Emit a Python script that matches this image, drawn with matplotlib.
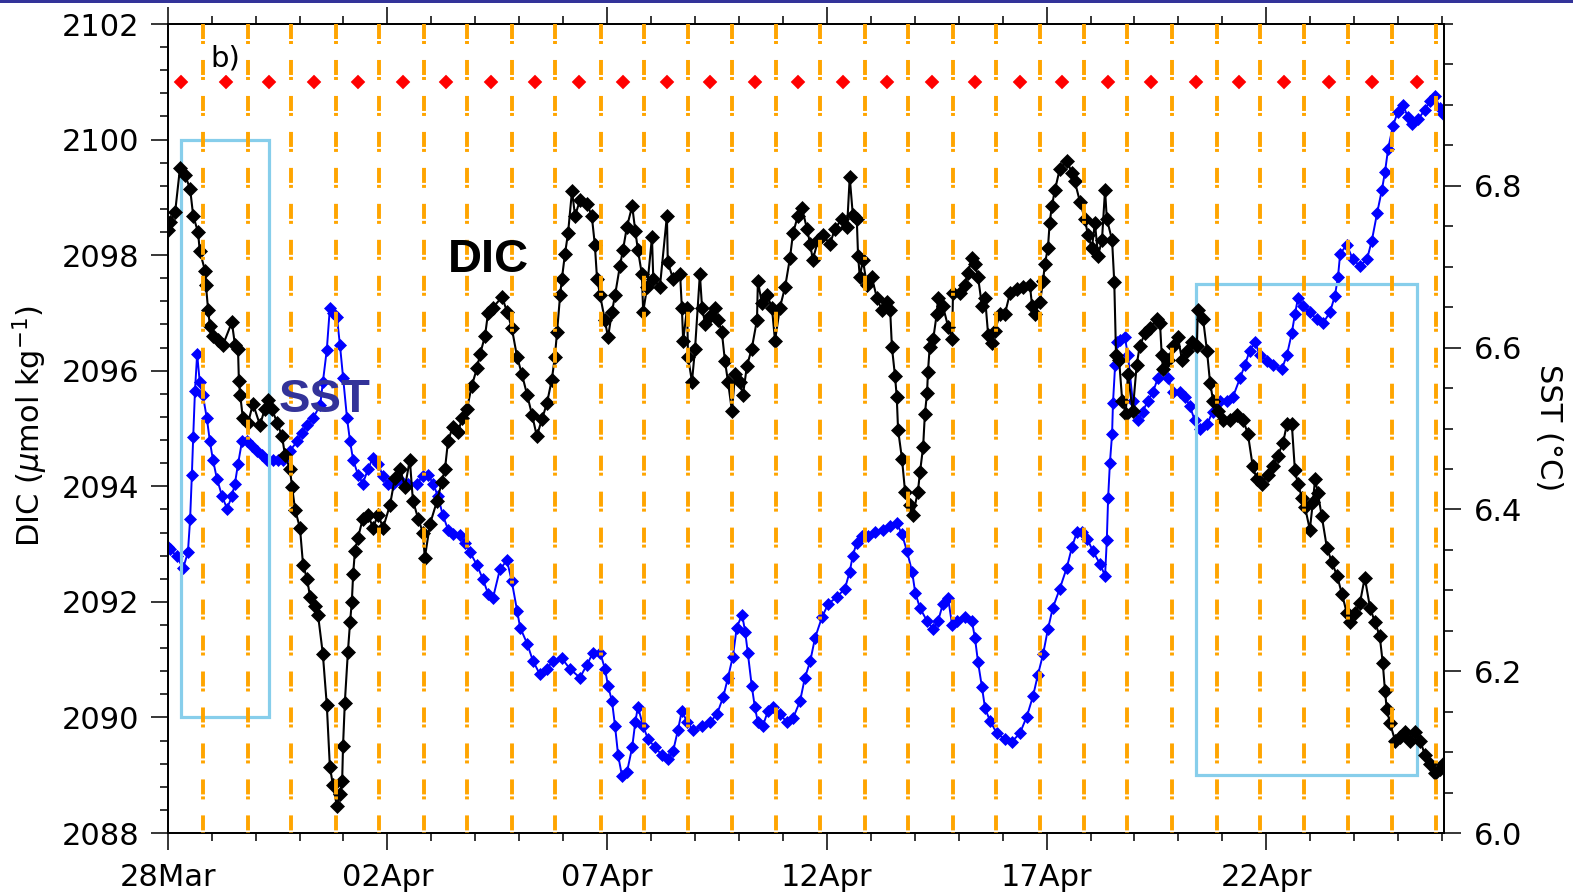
import matplotlib
matplotlib.use("Agg")
import matplotlib.pyplot as plt
from matplotlib.ticker import MultipleLocator, FixedLocator
from matplotlib.patches import Rectangle

plt.rcParams['font.family'] = ['DejaVu Sans']
plt.rcParams['lines.scale_dashes'] = False

# ---- axis labels / ticks -------------------------------------------------
tick_days = [0, 5, 10, 15, 20, 25]
tick_labels = ["28Mar", "02Apr", "07Apr", "12Apr", "17Apr", "22Apr"]
sst_ticks = [6.0, 6.2, 6.4, 6.6, 6.8]

# ---- DIC time series (days since 28 Mar, umol/kg) ------------------------
dic_day = [
    0.00, 0.05, 0.17, 0.28, 0.39, 0.51, 0.58, 0.69, 0.73, 0.85, 0.87, 0.92, 0.96,
    1.03, 1.14, 1.26, 1.46, 1.53, 1.60, 1.62, 1.65, 1.71, 1.83, 1.94, 2.10, 2.21,
    2.28, 2.37, 2.49, 2.60, 2.67, 2.78, 2.83, 2.90, 3.01, 3.08, 3.17, 3.24, 3.35,
    3.42, 3.53, 3.62, 3.69, 3.76, 3.85, 3.92, 3.97, 3.99, 4.03, 4.10, 4.15, 4.19,
    4.22, 4.26, 4.33, 4.44, 4.56, 4.67, 4.79, 4.90, 5.06, 5.17, 5.29, 5.40, 5.51,
    5.58, 5.70, 5.81, 5.85, 5.97, 6.13, 6.24, 6.31, 6.38, 6.49, 6.61, 6.70, 6.81,
    6.92, 7.04, 7.11, 7.22, 7.29, 7.40, 7.61, 7.72, 7.83, 7.95, 8.06, 8.18, 8.29,
    8.40, 8.52, 8.63, 8.74, 8.81, 8.86, 8.93, 8.97, 9.04, 9.11, 9.20, 9.27, 9.38,
    9.54, 9.65, 9.72, 9.77, 9.84, 9.95, 10.02, 10.11, 10.18, 10.29, 10.36, 10.45,
    10.57, 10.64, 10.70, 10.79, 10.82, 10.91, 11.02, 11.05, 11.20, 11.36, 11.38,
    11.50, 11.66, 11.70, 11.73, 11.82, 11.84, 11.93, 12.00, 12.11, 12.16, 12.23,
    12.34, 12.45, 12.52, 12.61, 12.68, 12.75, 12.84, 12.91, 13.02, 13.09, 13.18,
    13.29, 13.41, 13.43, 13.52, 13.64, 13.75, 13.82, 13.93, 14.05, 14.16, 14.23,
    14.34, 14.43, 14.55, 14.62, 14.68, 14.80, 14.91, 15.07, 15.18, 15.34, 15.46,
    15.52, 15.59, 15.68, 15.71, 15.75, 15.82, 15.91, 16.02, 16.14, 16.25, 16.37,
    16.44, 16.48, 16.55, 16.59, 16.62, 16.71, 16.78, 16.89, 16.96, 17.07, 17.12,
    17.19, 17.23, 17.28, 17.30, 17.34, 17.42, 17.50, 17.53, 17.64, 17.76, 17.85,
    17.87, 18.03, 18.14, 18.21, 18.30, 18.37, 18.44, 18.53, 18.60, 18.67, 18.76,
    18.82, 18.94, 19.05, 19.17, 19.33, 19.46, 19.62, 19.67, 19.73, 19.85, 19.92,
    19.96, 20.03, 20.07, 20.12, 20.19, 20.30, 20.46, 20.58, 20.64, 20.76, 20.87,
    20.94, 21.03, 21.10, 21.17, 21.26, 21.33, 21.37, 21.49, 21.54, 21.58, 21.65,
    21.72, 21.80, 21.85, 21.96, 22.05, 22.12, 22.24, 22.35, 22.51, 22.58, 22.62,
    22.65, 22.76, 22.88, 22.99, 23.08, 23.19, 23.31, 23.42, 23.44, 23.56, 23.65,
    23.72, 23.79, 23.90, 24.01, 24.17, 24.33, 24.47, 24.58, 24.69, 24.78, 24.90,
    25.03, 25.15, 25.26, 25.38, 25.47, 25.58, 25.65, 25.72, 25.81, 25.88, 25.99,
    26.06, 26.11, 26.17, 26.26, 26.38, 26.49, 26.61, 26.72, 26.83, 26.90, 27.02,
    27.13, 27.24, 27.36, 27.47, 27.58, 27.65, 27.70, 27.74, 27.81, 27.93, 28.04,
    28.15, 28.27, 28.38, 28.50, 28.61, 28.72, 28.84, 28.95, 29.03,
]
dic_val = [
    2098.44, 2098.57, 2098.75, 2099.51, 2099.39, 2099.15, 2098.68, 2098.40, 2098.07,
    2097.73, 2097.48, 2097.05, 2096.78, 2096.60, 2096.53, 2096.45, 2096.84, 2096.45,
    2096.38, 2095.82, 2095.58, 2095.18, 2095.10, 2095.43, 2095.06, 2095.34, 2095.49,
    2095.34, 2095.10, 2094.87, 2094.54, 2094.30, 2093.99, 2093.59, 2093.28, 2092.64,
    2092.40, 2092.09, 2091.93, 2091.78, 2091.10, 2090.22, 2089.15, 2088.83, 2088.47,
    2088.68, 2088.90, 2089.51, 2090.25, 2091.13, 2091.65, 2092.00, 2092.48, 2092.88,
    2093.11, 2093.44, 2093.51, 2093.28, 2093.51, 2093.28, 2093.68, 2094.15, 2094.30,
    2093.99, 2094.46, 2093.75, 2093.44, 2093.19, 2092.76, 2093.35, 2093.75, 2094.08,
    2094.30, 2094.79, 2095.03, 2094.94, 2095.18, 2095.34, 2095.74, 2096.05, 2096.29,
    2096.60, 2097.00, 2097.09, 2097.28, 2097.02, 2096.74, 2096.24, 2095.94, 2095.58,
    2095.24, 2094.87, 2095.17, 2095.44, 2095.84, 2096.24, 2096.67, 2097.31, 2097.59,
    2098.02, 2098.38, 2099.11, 2098.68, 2098.95, 2098.89, 2098.68, 2098.18, 2097.59,
    2097.31, 2096.88, 2096.58, 2097.02, 2097.31, 2097.81, 2098.09, 2098.49, 2098.85,
    2098.42, 2098.09, 2097.67, 2097.02, 2097.45, 2098.31, 2097.59, 2097.45, 2098.68,
    2097.88, 2097.59, 2097.67, 2097.09, 2096.52, 2097.09, 2096.24, 2095.81, 2096.38,
    2097.67, 2097.09, 2096.81, 2096.95, 2097.09, 2096.88, 2096.67, 2096.17, 2095.81,
    2095.30, 2095.94, 2095.81, 2095.58, 2096.08, 2096.38, 2096.88, 2097.55, 2097.17,
    2097.31, 2097.09, 2096.52, 2097.09, 2097.45, 2097.95, 2098.38, 2098.68, 2098.82,
    2098.45, 2098.19, 2097.92, 2098.26, 2098.35, 2098.19, 2098.45, 2098.63, 2098.49,
    2099.35, 2098.70, 2098.63, 2097.99, 2097.62, 2097.92, 2097.48, 2097.62, 2097.26,
    2097.05, 2097.19, 2097.05, 2096.41, 2095.91, 2095.55, 2094.98, 2094.47, 2093.90,
    2093.68, 2093.51, 2093.90, 2094.25, 2094.68, 2095.25, 2095.62, 2095.98, 2096.41,
    2096.55, 2096.98, 2097.26, 2097.12, 2096.76, 2096.55, 2097.35, 2097.35, 2097.48,
    2097.69, 2097.95, 2097.85, 2097.62, 2097.12, 2097.26, 2096.62, 2096.48, 2096.69,
    2096.98, 2096.98, 2097.35, 2097.42, 2097.45, 2097.48, 2097.12, 2096.98, 2097.19,
    2097.55, 2097.85, 2098.12, 2098.56, 2098.85, 2099.13, 2099.49, 2099.63, 2099.42,
    2099.28, 2098.92, 2098.63, 2098.35, 2098.12, 2098.56, 2097.99, 2098.26, 2099.13,
    2098.63, 2098.26, 2097.53, 2096.27, 2096.19, 2095.48, 2095.25, 2095.94, 2095.30,
    2096.10, 2096.43, 2096.65, 2096.74, 2096.90, 2096.83, 2096.27, 2096.03, 2096.19,
    2096.43, 2096.58, 2096.19, 2096.34, 2096.50, 2096.43, 2097.05, 2096.90, 2096.34,
    2095.79, 2095.48, 2095.30, 2095.15, 2095.15, 2095.24, 2095.15, 2094.91, 2094.35,
    2094.13, 2094.04, 2094.20, 2094.35, 2094.53, 2094.75, 2095.08, 2095.08, 2094.28,
    2094.04, 2093.80, 2093.64, 2093.25, 2093.73, 2094.13, 2093.89, 2093.49, 2092.93,
    2092.69, 2092.45, 2092.14, 2091.81, 2091.65, 2091.81, 2091.98, 2092.42, 2091.90,
    2091.65, 2091.41, 2090.94, 2090.46, 2090.15, 2089.91, 2089.60, 2089.66, 2089.75,
    2089.60, 2089.75, 2089.60, 2089.35, 2089.20, 2089.04, 2089.11, 2089.20,
]

# ---- SST time series (days since 28 Mar, deg C) --------------------------
sst_day = [
    0.00, 0.05, 0.21, 0.35, 0.46, 0.51, 0.55, 0.58, 0.62, 0.67, 0.73, 0.80, 0.89,
    0.96, 1.03, 1.12, 1.24, 1.35, 1.46, 1.53, 1.60, 1.69, 1.80, 1.92, 2.03, 2.15,
    2.26, 2.40, 2.51, 2.62, 2.78, 2.94, 3.06, 3.17, 3.31, 3.47, 3.53, 3.62, 3.69,
    3.76, 3.85, 3.92, 3.99, 4.08, 4.15, 4.22, 4.33, 4.44, 4.56, 4.67, 4.79, 4.90,
    5.01, 5.13, 5.29, 5.47, 5.67, 5.81, 5.92, 6.04, 6.15, 6.26, 6.38, 6.49, 6.65,
    6.77, 6.88, 7.04, 7.17, 7.29, 7.40, 7.56, 7.72, 7.83, 7.95, 8.02, 8.18, 8.31,
    8.47, 8.63, 8.77, 8.97, 9.15, 9.38, 9.54, 9.68, 9.84, 9.95, 10.02, 10.11,
    10.18, 10.25, 10.34, 10.45, 10.57, 10.64, 10.70, 10.82, 10.93, 11.09, 11.25,
    11.38, 11.50, 11.61, 11.70, 11.82, 11.95, 12.16, 12.34, 12.50, 12.64, 12.75,
    12.86, 12.95, 13.07, 13.14, 13.20, 13.29, 13.36, 13.43, 13.54, 13.66, 13.77,
    13.93, 14.09, 14.23, 14.39, 14.50, 14.62, 14.73, 14.89, 15.03, 15.23, 15.41,
    15.52, 15.59, 15.68, 15.80, 15.93, 16.09, 16.28, 16.44, 16.59, 16.71, 16.82,
    16.94, 17.01, 17.12, 17.28, 17.42, 17.53, 17.64, 17.76, 17.85, 17.96, 18.14,
    18.30, 18.37, 18.44, 18.53, 18.60, 18.71, 18.87, 19.05, 19.21, 19.39, 19.55,
    19.69, 19.80, 19.92, 20.03, 20.14, 20.30, 20.46, 20.58, 20.69, 20.80, 20.92,
    21.05, 21.21, 21.33, 21.37, 21.40, 21.44, 21.49, 21.51, 21.56, 21.60, 21.67,
    21.78, 21.85, 21.96, 22.08, 22.19, 22.30, 22.42, 22.53, 22.65, 22.76, 22.88,
    23.03, 23.15, 23.26, 23.37, 23.49, 23.65, 23.78, 23.94, 24.10, 24.24, 24.40,
    24.51, 24.62, 24.74, 24.85, 25.01, 25.15, 25.35, 25.47, 25.58, 25.65, 25.72,
    25.83, 25.99, 26.15, 26.29, 26.45, 26.56, 26.63, 26.68, 26.83, 26.97, 27.13,
    27.29, 27.40, 27.52, 27.63, 27.70, 27.77, 27.88, 27.99, 28.11, 28.22, 28.31,
    28.45, 28.61, 28.72, 28.84, 28.95, 29.03,
]
sst_val = [
    6.353, 6.351, 6.342, 6.327, 6.347, 6.388, 6.443, 6.489, 6.546, 6.592, 6.557,
    6.541, 6.513, 6.484, 6.461, 6.438, 6.416, 6.401, 6.416, 6.432, 6.456, 6.484,
    6.484, 6.478, 6.472, 6.467, 6.461, 6.461, 6.461, 6.461, 6.472, 6.484, 6.495,
    6.504, 6.513, 6.529, 6.557, 6.597, 6.649, 6.643, 6.638, 6.603, 6.563, 6.513,
    6.484, 6.461, 6.443, 6.432, 6.450, 6.464, 6.456, 6.441, 6.432, 6.432, 6.436,
    6.432, 6.432, 6.441, 6.443, 6.432, 6.416, 6.393, 6.375, 6.370, 6.368, 6.359,
    6.347, 6.331, 6.314, 6.296, 6.290, 6.326, 6.337, 6.311, 6.275, 6.254, 6.234,
    6.213, 6.196, 6.203, 6.213, 6.216, 6.203, 6.192, 6.208, 6.223, 6.223, 6.203,
    6.182, 6.163, 6.132, 6.096, 6.070, 6.075, 6.106, 6.137, 6.156, 6.132, 6.116,
    6.106, 6.096, 6.091, 6.101, 6.127, 6.151, 6.137, 6.127, 6.132, 6.137, 6.147,
    6.168, 6.192, 6.218, 6.254, 6.270, 6.249, 6.223, 6.182, 6.156, 6.137, 6.132,
    6.151, 6.156, 6.147, 6.137, 6.142, 6.163, 6.192, 6.212, 6.241, 6.267, 6.283,
    6.292, 6.302, 6.323, 6.343, 6.359, 6.367, 6.367, 6.372, 6.374, 6.379, 6.383,
    6.369, 6.349, 6.323, 6.297, 6.278, 6.262, 6.252, 6.262, 6.283, 6.290, 6.257,
    6.262, 6.267, 6.262, 6.241, 6.211, 6.180, 6.154, 6.139, 6.123, 6.116, 6.113,
    6.123, 6.144, 6.169, 6.195, 6.221, 6.252, 6.278, 6.302, 6.328, 6.354, 6.372,
    6.372, 6.364, 6.349, 6.333, 6.318, 6.362, 6.414, 6.457, 6.493, 6.531, 6.579,
    6.607, 6.610, 6.613, 6.591, 6.534, 6.510, 6.521, 6.534, 6.545, 6.562, 6.573,
    6.562, 6.545, 6.545, 6.539, 6.528, 6.510, 6.499, 6.505, 6.521, 6.534, 6.534,
    6.539, 6.562, 6.578, 6.596, 6.607, 6.591, 6.584, 6.578, 6.573, 6.591, 6.618,
    6.641, 6.661, 6.652, 6.644, 6.635, 6.630, 6.644, 6.664, 6.687, 6.716, 6.727,
    6.709, 6.701, 6.709, 6.732, 6.766, 6.795, 6.817, 6.845, 6.874, 6.891, 6.900,
    6.885, 6.876, 6.882, 6.894, 6.905, 6.911, 6.896, 6.889,
]

# ---- daily sunrise / sunset times (days since 28 Mar) --------------------
sunrise_day = [
    0.30, 1.33, 2.31, 3.34, 4.32, 5.35, 6.33, 7.35, 8.35, 9.35, 10.36, 11.36,
    12.35, 13.37, 14.35, 15.36, 16.36, 17.39, 18.37, 19.40, 20.36, 21.39, 22.37,
    23.40, 24.38, 25.41, 26.42, 27.40, 28.42,
]
sunset_day = [
    0.80, 1.82, 2.81, 3.82, 4.81, 5.83, 6.82, 7.83, 8.82, 9.85, 10.83, 11.85,
    12.83, 13.84, 14.84, 15.86, 16.84, 17.87, 18.84, 19.84, 20.84, 21.84, 22.86,
    23.87, 24.86, 25.85, 26.86, 27.85, 28.86,
]
sunrise_level = 2101.0

# ---- highlighted periods (sunrise index to sunrise index, DIC range) -----
box_start_idx = [0, 23]
box_end_idx = [2, 28]
box_low = [2090.0, 2089.0]
box_high = [2100.0, 2097.5]

DIC_LIM = (2088, 2102)
SST_LIM = (6.0, 7.0)
DAY_LIM = (0, 29.05)

W, H = 1573, 896
fig = plt.figure(figsize=(W / 100, H / 100), dpi=100)
fig.patch.set_facecolor('white')

# thin banner line along the top of the figure
fig.patches.append(Rectangle((0, 1 - 3.0 / H), 1, 3.0 / H, transform=fig.transFigure,
                             facecolor='#333399', edgecolor='none'))

ax1 = fig.add_axes([167.7 / W, 1 - 833.0 / H, (1444.3 - 167.7) / W, (833.0 - 24.0) / H])
ax2 = ax1.twinx()
ax1.set_zorder(ax2.get_zorder() + 1)
ax1.patch.set_visible(False)

# SST on the right-hand axis
ax2.plot(sst_day, sst_val, color='#0000FF', lw=1.4, marker='D', ms=6.3,
         mec='#0000FF', mfc='#0000FF', mew=0.5)

# highlighted periods
for i0, i1, lo, hi in zip(box_start_idx, box_end_idx, box_low, box_high):
    x0 = sunrise_day[i0]
    x1 = sunrise_day[i1]
    ax1.add_patch(Rectangle((x0, lo), x1 - x0, hi - lo, fill=False,
                            edgecolor='#87CEEB', lw=2.3, zorder=2))

# DIC on the left-hand axis
ax1.plot(dic_day, dic_val, color='black', lw=1.5, marker='D', ms=6.8,
         mec='black', mfc='black', mew=0.5, zorder=3)

# sunset markers: dash-dot vertical lines
for t in sunset_day:
    ax1.plot([t, t], [DIC_LIM[1], DIC_LIM[0]], color='#FFA500', lw=2.8,
             dashes=(10.8, 1.44, 2.16, 11.5), dash_capstyle='butt', zorder=4)

# sunrise markers
ax1.plot(sunrise_day, [sunrise_level] * len(sunrise_day), linestyle='none',
         marker='D', ms=6.8, mfc='red', mec='red', mew=0.3, zorder=5)

ax1.text(0.98, 2101.26, 'b)', fontsize=21, ha='left', va='baseline', zorder=6,
         bbox=dict(facecolor='white', edgecolor='none', pad=1.5))
ax1.text(7.30, 2097.71, 'DIC', fontsize=34, fontweight='bold',
         family='Liberation Sans', ha='center', va='baseline', zorder=6)
ax1.text(3.58, 2095.29, 'SST', fontsize=34, fontweight='bold', color='#333399',
         family='Liberation Sans', ha='center', va='baseline', zorder=6)

ax1.set_xlim(*DAY_LIM)
ax1.set_ylim(*DIC_LIM)
ax2.set_ylim(*SST_LIM)

ax1.xaxis.set_major_locator(FixedLocator(tick_days))
ax1.set_xticklabels(tick_labels)
ax1.xaxis.set_minor_locator(MultipleLocator(1))
ax1.yaxis.set_major_locator(MultipleLocator(2))
ax1.yaxis.set_minor_locator(MultipleLocator(0.4))
ax2.yaxis.set_major_locator(FixedLocator(sst_ticks))
ax2.yaxis.set_minor_locator(MultipleLocator(0.05))

ax1.tick_params(which='both', direction='out', top=True, bottom=True, left=True,
                right=False, labelsize=22, width=1.1, colors='black')
ax1.tick_params(which='major', length=12.5)
ax1.tick_params(which='minor', length=6)
ax1.tick_params(axis='y', which='major', pad=8)
ax1.tick_params(axis='x', which='major', pad=9)
ax2.tick_params(which='both', direction='out', right=True, labelsize=22, width=1.1)
ax2.tick_params(which='major', length=12.5, pad=8.5)
ax2.tick_params(which='minor', length=6.5)

for ax in (ax1, ax2):
    for s in ax.spines.values():
        s.set_linewidth(1.3)
        s.set_color('black')

fig.text(30.0 / W, 1 - 426.0 / H, r'DIC ($\mu$mol kg$^{-1}$)', rotation=90,
         ha='center', va='center', fontsize=22)
fig.text(1548.0 / W, 1 - 428.0 / H, 'SST (\u00b0C)', rotation=270,
         ha='center', va='center', fontsize=22)

fig.savefig('out.png', dpi=100, facecolor='white')
